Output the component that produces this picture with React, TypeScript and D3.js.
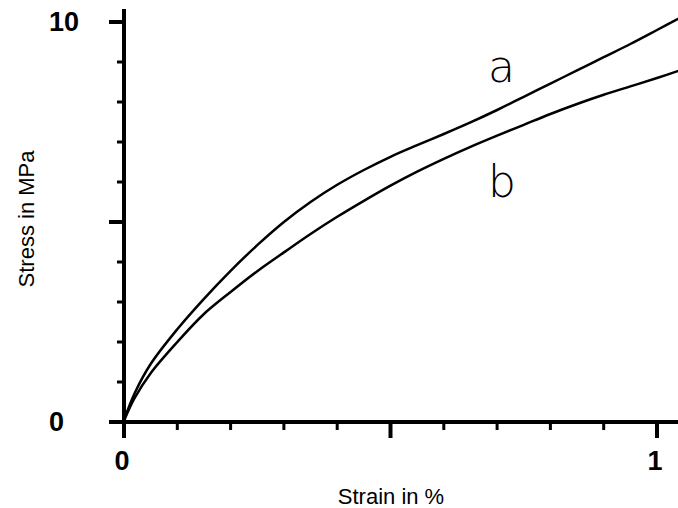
import React from "react";
import * as d3 from "d3";

// Stress–strain curves for two specimens
const strainA = [0, 0.02, 0.05, 0.1, 0.15, 0.2, 0.25, 0.3, 0.35, 0.4, 0.45, 0.5, 0.55, 0.6, 0.65, 0.7, 0.75, 0.8, 0.85, 0.9, 0.95, 1.0, 1.045];
const stressA = [0.05, 0.72, 1.45, 2.32, 3.08, 3.78, 4.42, 5.0, 5.5, 5.93, 6.3, 6.63, 6.92, 7.2, 7.49, 7.8, 8.13, 8.46, 8.79, 9.12, 9.45, 9.8, 10.12];

const strainB = [0, 0.02, 0.05, 0.1, 0.15, 0.2, 0.25, 0.3, 0.35, 0.4, 0.45, 0.5, 0.55, 0.6, 0.65, 0.7, 0.75, 0.8, 0.85, 0.9, 0.95, 1.0, 1.045];
const stressB = [0.03, 0.6, 1.22, 2.0, 2.7, 3.25, 3.77, 4.24, 4.7, 5.13, 5.53, 5.91, 6.26, 6.58, 6.88, 7.16, 7.43, 7.7, 7.95, 8.18, 8.39, 8.6, 8.8];

const seriesNames = ["a", "b"];
const xTickLabels = [0, 1];
const yTickLabels = [0, 10];

const W = 678;
const H = 508;

export default function App() {
  const x = d3.scaleLinear().domain([0, 1]).range([124, 657]);
  const y = d3.scaleLinear().domain([0, 10]).range([422, 22]);

  const line = d3
    .line<[number, number]>()
    .x((d) => x(d[0]))
    .y((d) => y(d[1]))
    .curve(d3.curveCatmullRom.alpha(0.5));

  const ptsA = strainA.map((s, i) => [s, stressA[i]] as [number, number]);
  const ptsB = strainB.map((s, i) => [s, stressB[i]] as [number, number]);

  const xMinor = d3.range(0, 11).map((i) => i / 10);
  const xMajor = [0, 0.5, 1];
  const yMinor = d3.range(0, 11);
  const yMajor = [0, 5, 10];

  const tickFont = "'Liberation Sans', Arial, sans-serif";

  return (
    <svg
      width={W}
      height={H}
      viewBox={`0 0 ${W} ${H}`}
      style={{ position: "fixed", left: 0, top: 0, background: "#fff" }}
    >
      <rect width={W} height={H} fill="#fff" />
      {/* axes */}
      <line x1={x(0)} x2={x(0)} y1={9} y2={y(0)} stroke="#000" strokeWidth={4} />
      <line x1={109} x2={W} y1={y(0)} y2={y(0)} stroke="#000" strokeWidth={4} />

      {yMinor.map((v) => (
        <line key={"ym" + v} x1={x(0) - 7} x2={x(0)} y1={y(v)} y2={y(v)} stroke="#000" strokeWidth={3} />
      ))}
      {yMajor.map((v) => (
        <line key={"yM" + v} x1={x(0) - 15} x2={x(0)} y1={y(v)} y2={y(v)} stroke="#000" strokeWidth={4} />
      ))}
      {xMinor.map((v) => (
        <line key={"xm" + v} x1={x(v)} x2={x(v)} y1={y(0)} y2={y(0) + 8} stroke="#000" strokeWidth={3} />
      ))}
      {xMajor.map((v) => (
        <line key={"xM" + v} x1={x(v)} x2={x(v)} y1={y(0)} y2={y(0) + 16} stroke="#000" strokeWidth={4} />
      ))}

      {/* tick labels */}
      {xTickLabels.map((v) => (
        <text
          key={"xl" + v}
          x={x(v) - 2}
          y={470}
          textAnchor="middle"
          fontFamily={tickFont}
          fontWeight="bold"
          fontSize={27}
        >
          {v}
        </text>
      ))}
      {yTickLabels.map((v) => (
        <text
          key={"yl" + v}
          x={49}
          y={y(v) + 9}
          textAnchor="start"
          fontFamily={tickFont}
          fontWeight="bold"
          fontSize={27}
        >
          {v}
        </text>
      ))}

      {/* axis titles */}
      <text x={391} y={504} textAnchor="middle" fontFamily={tickFont} fontSize={22}>
        Strain in %
      </text>
      <text
        transform={`translate(34,219) rotate(-90)`}
        textAnchor="middle"
        fontFamily={tickFont}
        fontSize={22}
      >
        Stress in MPa
      </text>

      {/* curves */}
      <path d={line(ptsA) || ""} fill="none" stroke="#000" strokeWidth={2.5} />
      <path d={line(ptsB) || ""} fill="none" stroke="#000" strokeWidth={2.5} />

      {/* curve labels */}
      <text x={488} y={82} fontFamily="'DejaVu Sans', sans-serif" fontWeight={200} fontSize={44}>
        {seriesNames[0]}
      </text>
      <text x={488} y={197} fontFamily="'DejaVu Sans', sans-serif" fontWeight={200} fontSize={44}>
        {seriesNames[1]}
      </text>
    </svg>
  );
}
